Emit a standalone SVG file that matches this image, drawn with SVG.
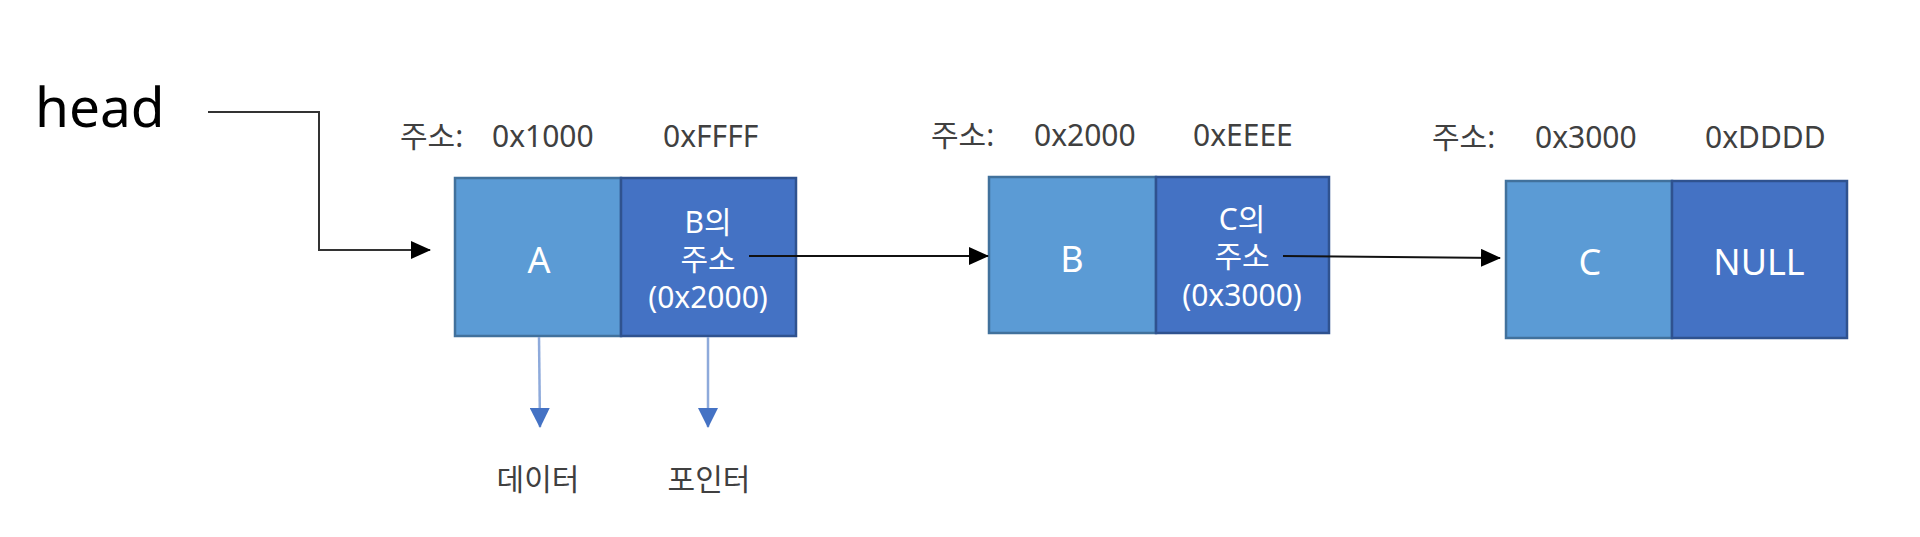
<svg xmlns="http://www.w3.org/2000/svg" width="1920" height="537" viewBox="0 0 1920 537">
<style>
text{font-family:"Noto Sans","Noto Sans CJK KR",sans-serif}
.lbl{font-size:30px;fill:#404040}
.in{font-size:30px;fill:#ffffff;text-anchor:middle}
.big{font-size:36px;fill:#ffffff;text-anchor:middle}
.data{fill:#5b9bd5;stroke:#41719c;stroke-width:2.5}
.ptr{fill:#4472c4;stroke:#2f528f;stroke-width:2.5}
.blk{fill:none;stroke:#111;stroke-width:2}
.blu{fill:none;stroke:#8eaadb;stroke-width:2.5}
</style>
<defs>
<marker id="ah" markerWidth="20" markerHeight="18" refX="19" refY="9" orient="auto" markerUnits="userSpaceOnUse" viewBox="0 0 20 18">
<path d="M0,0 L20,9 L0,18 z" fill="#000"/>
</marker>
<marker id="bh" markerWidth="20" markerHeight="20" refX="19" refY="10" orient="auto" markerUnits="userSpaceOnUse" viewBox="0 0 20 20">
<path d="M0,0 L20,10 L0,20 z" fill="#4472c4"/>
</marker>
</defs>
<rect width="1920" height="537" fill="#ffffff"/>
<g id="head"><text x="35" y="127" font-size="55" fill="#000">head</text></g>
<g id="node-a">
<rect class="data" x="455" y="178" width="166" height="158"/>
<rect class="ptr" x="621" y="178" width="175" height="158"/>
<text class="lbl" x="400" y="147">주소:</text>
<text class="lbl" x="492" y="147">0x1000</text>
<text class="lbl" x="663" y="147">0xFFFF</text>
<text class="big" x="539" y="273">A</text>
<text class="in" x="708" y="233">B의</text>
<text class="in" x="708" y="270">주소</text>
<text class="in" x="708" y="308">(0x2000)</text>
</g>
<g id="node-b">
<rect class="data" x="989" y="177" width="167" height="156"/>
<rect class="ptr" x="1156" y="177" width="173" height="156"/>
<text class="lbl" x="931" y="146">주소:</text>
<text class="lbl" x="1034" y="146">0x2000</text>
<text class="lbl" x="1193" y="146">0xEEEE</text>
<text class="big" x="1072" y="272">B</text>
<text class="in" x="1242" y="230">C의</text>
<text class="in" x="1242" y="267">주소</text>
<text class="in" x="1242" y="306">(0x3000)</text>
</g>
<g id="node-c">
<rect class="data" x="1506" y="181" width="166" height="157"/>
<rect class="ptr" x="1672" y="181" width="175" height="157"/>
<text class="lbl" x="1432" y="148">주소:</text>
<text class="lbl" x="1535" y="148">0x3000</text>
<text class="lbl" x="1705" y="148">0xDDDD</text>
<text class="big" x="1590" y="275">C</text>
<text class="big" x="1759" y="275">NULL</text>
</g>
<g id="label-data"><text class="lbl" x="538" y="490" text-anchor="middle">데이터</text></g>
<g id="label-ptr"><text class="lbl" x="709" y="490" text-anchor="middle">포인터</text></g>
<g id="connectors">
<polyline class="blk" points="208,112 319,112 319,250 430,250" marker-end="url(#ah)" style="stroke:#333"/>
<line class="blk" x1="749" y1="256" x2="988" y2="256" marker-end="url(#ah)"/>
<line class="blk" x1="1283" y1="256" x2="1500" y2="258" marker-end="url(#ah)"/>
<line class="blu" x1="539" y1="337" x2="540" y2="427" marker-end="url(#bh)"/>
<line class="blu" x1="708" y1="337" x2="708" y2="427" marker-end="url(#bh)"/>
</g>
</svg>
